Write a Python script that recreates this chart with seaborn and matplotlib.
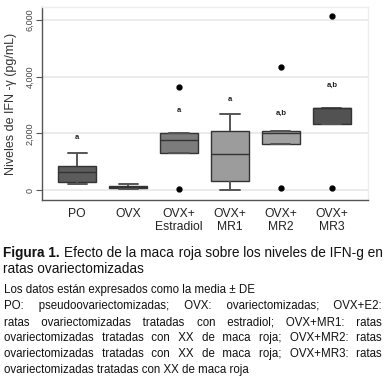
import math
import pandas as pd
import matplotlib
matplotlib.use("Agg")
import matplotlib.pyplot as plt
import seaborn as sns

# Groups and the values (min, q1, median, q3, max per group)
groups = ["PO", "OVX", "OVX+\nEstradiol", "OVX+\nMR1", "OVX+\nMR2", "OVX+\nMR3"]
po = [212, 293, 646, 858, 1295]
ovx = [25, 60, 95, 141, 200]
estradiol = [35, 1317, 1765, 2023, 3647]
mr1 = [0, 318, 1260, 2083, 2683]
mr2 = [81, 1613, 2023, 2094, 4352]
mr3 = [81, 2330, 2882, 2906, 6142]

# significance letters and the height they sit at
sig_labels = ["a", "", "a", "a", "a,b", "a,b"]
sig_y = [1860, 0, 2790, 3212, 2707, 3682]

yticks = [0, 2000, 4000, 6000]
ytick_labels = ["0", "2,000", "4,000", "6,000"]

box_colors = ["#5c5c5c", "#5a5a5a", "#7c7c7c", "#9c9c9c", "#a2a2a2", "#525252"]

sns.set_style("white")
plt.rcParams["font.family"] = ["Liberation Sans", "DejaVu Sans"]

rows = []
for g, vals in zip(groups, [po, ovx, estradiol, mr1, mr2, mr3]):
    for v in vals:
        rows.append({"grupo": g, "valor": v})
df = pd.DataFrame(rows)

W, H = 385, 377
fig = plt.figure(figsize=(W / 100, H / 100), dpi=100)
ax = fig.add_axes([42 / W, 1 - 200 / H, 326 / W, 193 / H])

sns.boxplot(data=df, x="grupo", y="valor", hue="grupo", palette=box_colors,
            saturation=1, width=0.75, linecolor="#333333", linewidth=1,
            whis=1.5, fliersize=3.5, legend=False, ax=ax,
            flierprops=dict(marker="o", markerfacecolor="black",
                            markeredgecolor="black"),
            whiskerprops=dict(color="#555555", linewidth=1.4),
            capprops=dict(color="#555555", linewidth=1.4))

for i, (lab, yv) in enumerate(zip(sig_labels, sig_y)):
    if lab:
        ax.text(i, yv, lab, ha="center", va="center", fontsize=5.5,
                fontweight="bold", color="#222222")

ax.set_xlim(-0.69, 5.71)
ax.set_ylim(-353, 6460)
ax.set_yticks(yticks)
ax.set_yticklabels(ytick_labels, rotation=90, va="center", fontsize=6.5,
                   color="#444444")
ax.yaxis.grid(True, color="#e8e8e8", linewidth=1.2)
ax.set_axisbelow(True)
ax.tick_params(axis="y", length=4, width=0.8, color="#555555", pad=1.5, left=True)
ax.tick_params(axis="x", length=0, pad=5.5, labelsize=8.7, labelcolor="#222222")
ax.set_xlabel("")
ax.set_ylabel("Niveles de IFN -γ (pg/mL)", fontsize=9, color="#333333", labelpad=6)

for side in ["left", "bottom"]:
    ax.spines[side].set_color("#555555")
    ax.spines[side].set_linewidth(1)
for side in ["top", "right"]:
    ax.spines[side].set_color("#eeeeee")
    ax.spines[side].set_linewidth(1)

renderer = fig.canvas.get_renderer()
HAIR = "\u200a"


def text_width(s, size, weight="normal"):
    t = fig.text(0, 0, s, fontsize=size, fontweight=weight)
    w = t.get_window_extent(renderer).width
    t.remove()
    return w


def gap_width(ch, size, weight):
    # width of one spacing character, measured over ten of them
    w = (text_width("a" + ch * 10 + "a", size, weight) - text_width("aa", size, weight)) / 10
    return w


def put_line(tokens, y_base, size, x0=4, x1=382, justify=True):
    """Words (word, weight) on one baseline, spread over x0..x1 when justify.
    Runs of the same weight are one text; gaps are built from spaces and hair spaces."""
    size_px = size * 100 / 72
    widths = [text_width(w, size, wt) for w, wt in tokens]
    n = len(tokens)
    space = gap_width(" ", size, "normal")
    if not (0.15 * size_px < space < 0.45 * size_px):
        space = 0.278 * size_px
    gap = ((x1 - x0) - sum(widths)) / (n - 1) if (justify and n > 1) else space
    xs = [x0]
    for i in range(1, n):
        xs.append(xs[-1] + widths[i - 1] + gap)

    runs = []
    for i, (w, wt) in enumerate(tokens):
        if runs and runs[-1][0] == wt:
            runs[-1][1].append(i)
        else:
            runs.append((wt, [i]))

    for wt, idx in runs:
        s = gap_width(" ", size, wt)
        if not (0.15 * size_px < s < 0.45 * size_px):
            s = 0.278 * size_px
        h = gap_width(HAIR, size, wt)
        if not (0.3 < h < 0.6 * s):
            h = 0
        txt = tokens[idx[0]][0]
        cur = xs[idx[0]] + widths[idx[0]]
        for j in idx[1:]:
            want = xs[j] - cur
            n_sp = min(6, max(1, math.floor(want / s)))
            m = min(8, max(0, round((want - n_sp * s) / h))) if h else 0
            txt += " " * n_sp + HAIR * m + tokens[j][0]
            cur += n_sp * s + m * h + widths[j]
        fig.text(xs[idx[0]] / W, 1 - y_base / H, txt, fontsize=size,
                 fontweight=wt, ha="left", va="baseline", color="#111111")


def words(s, weight="normal"):
    return [(w, weight) for w in s.split()]


cap = 9.8
put_line(words("Figura 1.", "bold") + words("Efecto de la maca roja sobre los niveles de IFN-g en"),
         257, cap, x0=3, x1=383)
put_line(words("ratas ovariectomizadas"), 273, cap, x0=3, justify=False)

note = 8.3
notes = [
    ("Los datos están expresados como la media ± DE", False),
    ("PO: pseudoovariectomizadas; OVX: ovariectomizadas; OVX+E2:", True),
    ("ratas ovariectomizadas tratadas con estradiol; OVX+MR1: ratas", True),
    ("ovariectomizadas tratadas con XX de maca roja; OVX+MR2: ratas", True),
    ("ovariectomizadas tratadas con XX de maca roja; OVX+MR3: ratas", True),
    ("ovariectomizadas tratadas con XX de maca roja", False),
]
for k, (line, just) in enumerate(notes):
    put_line(words(line), 293.5 + k * 15.8, note, justify=just)

fig.savefig("out.png", dpi=100)
plt.close(fig)
